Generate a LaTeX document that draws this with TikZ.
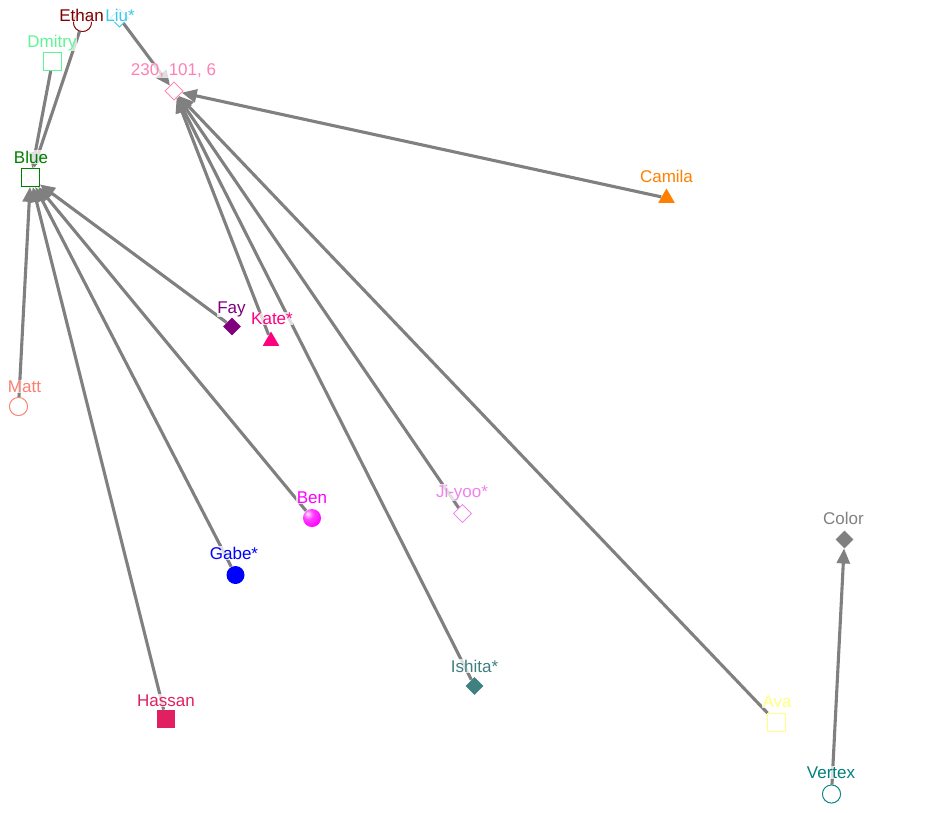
\documentclass[tikz,border=0pt]{standalone}
\usepackage{fontspec}
\setmainfont{Liberation Sans}
\usetikzlibrary{shapes.geometric,arrows.meta}
\definecolor{cEthan}{RGB}{128,0,0}
\definecolor{cLiu}{RGB}{60,200,235}
\definecolor{cDmitry}{RGB}{95,245,150}
\definecolor{cPink}{RGB}{255,128,180}
\definecolor{cBlue}{RGB}{0,128,0}
\definecolor{cCamila}{RGB}{255,128,0}
\definecolor{cFay}{RGB}{128,0,128}
\definecolor{cKate}{RGB}{255,0,128}
\definecolor{cMatt}{RGB}{250,128,114}
\definecolor{cBen}{RGB}{255,0,255}
\definecolor{cJiyoo}{RGB}{238,130,238}
\definecolor{cGabe}{RGB}{0,0,255}
\definecolor{cHassan}{RGB}{224,32,96}
\definecolor{cIshita}{RGB}{64,128,128}
\definecolor{cAva}{RGB}{255,255,128}
\definecolor{cColor}{RGB}{128,128,128}
\definecolor{cVertex}{RGB}{0,128,128}
\pgfdeclareradialshading{magball}{\pgfpoint{-12bp}{12bp}}{color(0bp)=(cBen!10!white); color(14bp)=(cBen!75!white); color(34bp)=(cBen); color(62bp)=(cBen!88!black); color(100bp)=(cBen!88!black)}
\tikzset{
  edge/.style={draw=cColor, line width=3.1pt, -{Triangle[length=15pt,width=13pt]}},
  sq/.style={rectangle, minimum size=18pt, inner sep=0pt, line width=0.8pt},
  dia/.style={diamond, minimum size=18pt, inner sep=0pt, line width=0.8pt},
  circ/.style={circle, minimum size=18pt, inner sep=0pt, line width=0.8pt},
  tri/.style={regular polygon, regular polygon sides=3, minimum size=19pt, inner sep=0pt, line width=0.8pt},
  lab/.style={anchor=base, inner sep=0.6pt, fill=white, fill opacity=0.75, text opacity=1, font=\fontsize{17}{20}\selectfont},
}
\begin{document}
\begin{tikzpicture}[x=1pt,y=-1pt]
\useasboundingbox[fill=white] (0,0) rectangle (950,812);
% markers
\node[circ, draw=cEthan, fill=white] (ethan) at (82.5,22.5) {};
\node[dia, draw=cLiu, fill=white] (liu) at (119.5,18) {};
\node[sq, draw=cDmitry, fill=white] (dmitry) at (52.5,61.5) {};
\node[dia, draw=cPink, fill=white] (pink) at (174,91) {};
\node[sq, draw=cBlue, fill=white] (blue) at (30.5,177.5) {};
\node[tri, fill=cCamila] (camila) at (666.5,198) {};
\node[dia, fill=cFay] (fay) at (232,326.5) {};
\node[tri, fill=cKate] (kate) at (271,341) {};
\node[circ, draw=cMatt, fill=white] (matt) at (18.5,406.5) {};
\node[circ, shading=magball] (ben) at (312,518) {};
\node[dia, draw=cJiyoo, fill=white] (jiyoo) at (462.5,513.5) {};
\node[circ, fill=cGabe] (gabe) at (235.5,575) {};
\node[sq, fill=cHassan] (hassan) at (166,719) {};
\node[dia, fill=cIshita] (ishita) at (474.5,686) {};
\node[sq, draw=cAva, fill=white] (ava) at (776.5,722.5) {};
\node[dia, fill=cColor] (color) at (844.5,539.5) {};
\node[circ, draw=cVertex, fill=white] (vertex) at (831.5,794) {};
% edges
\draw[edge] (ethan) -- (blue);
\draw[edge] (dmitry) -- (blue);
\draw[edge] (fay) -- (blue);
\draw[edge] (ben) -- (blue);
\draw[edge] (gabe) -- (blue);
\draw[edge] (hassan) -- (blue);
\draw[edge] (matt) -- (blue);
\draw[edge] (liu) -- (pink);
\draw[edge] (camila) -- (pink);
\draw[edge] (kate) -- (pink);
\draw[edge] (jiyoo) -- (pink);
\draw[edge] (ishita) -- (pink);
\draw[edge] (ava) -- (pink);
\draw[edge] (vertex) -- (color);
% redraw open markers on top of edges
\node[circ, draw=cEthan, fill=white] at (ethan) {};
\node[dia, draw=cLiu, fill=white] at (liu) {};
\node[sq, draw=cDmitry, fill=white] at (dmitry) {};
\node[dia, draw=cPink, fill=white] at (pink) {};
\node[sq, draw=cBlue, fill=white] at (blue) {};
\node[circ, draw=cMatt, fill=white] at (matt) {};
\node[dia, draw=cJiyoo, fill=white] at (jiyoo) {};
\node[sq, draw=cAva, fill=white] at (ava) {};
\node[circ, draw=cVertex, fill=white] at (vertex) {};
% labels
\node[lab, text=cEthan] (lEthan) at (81.5,21) {Ethan};
\node[lab, text=cLiu] (lLiu) at (120,21) {Liu*};
\node[lab, text=cDmitry] (lDmitry) at (52,47) {Dmitry};
\node[lab, text=cPink] (lPink) at (173.5,75) {230, 101, 6};
\node[lab, text=cBlue] (lBlue) at (31,163) {Blue};
\node[lab, text=cCamila] (lCamila) at (666.5,182) {Camila};
\node[lab, text=cFay] (lFay) at (231.5,313) {Fay};
\node[lab, text=cKate] (lKate) at (272,324) {Kate*};
\node[lab, text=cMatt] (lMatt) at (24.5,392) {Matt};
\node[lab, text=cBen] (lBen) at (312,503) {Ben};
\node[lab, text=cJiyoo] (lJiyoo) at (462,497) {Ji-yoo*};
\node[lab, text=cGabe] (lGabe) at (234,559) {Gabe*};
\node[lab, text=cHassan] (lHassan) at (166,706) {Hassan};
\node[lab, text=cIshita] (lIshita) at (474.5,672) {Ishita*};
\node[lab, text=cAva] (lAva) at (777,707) {Ava};
\node[lab, text=cColor] (lColor) at (843.5,524) {Color};
\node[lab, text=cVertex] (lVertex) at (831,778) {Vertex};
\end{tikzpicture}
\end{document}
